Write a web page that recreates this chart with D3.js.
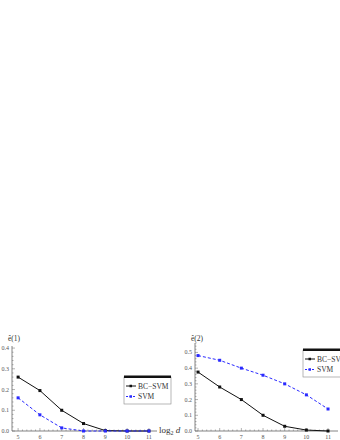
<!DOCTYPE html>
<html lang="en">
<head>
<meta charset="UTF-8">
<title>e(1), e(2) vs log2 d</title>
<script src="https://d3js.org/d3.v7.min.js"></script>
<style>
  body { margin: 0; padding: 0; background: #fff; }
  svg { display: block; }
  text { font-family: "Liberation Serif", "DejaVu Serif", serif; }
  .tick-label { font-size: 6px; fill: #555; }
</style>
</head>
<body>
<svg width="340" height="440"></svg>
<script>
const logD = [5, 6, 7, 8, 9, 10, 11];
const xTickLabels = ["5", "6", "7", "8", "9", "10", "11"];

// panel 1: e(1)
const bcSvm1 = [0.26, 0.195, 0.10, 0.036, 0.002, 0.0, 0.0];
const svm1 = [0.16, 0.078, 0.015, 0.0, 0.0, 0.0, 0.0];
const yTicks1 = [0.0, 0.1, 0.2, 0.3, 0.4];

// panel 2: e(2)
const bcSvm2 = [0.375, 0.28, 0.20, 0.10, 0.03, 0.006, 0.0];
const svm2 = [0.48, 0.45, 0.40, 0.355, 0.30, 0.23, 0.14];
const yTicks2 = [0.0, 0.1, 0.2, 0.3, 0.4, 0.5];

const seriesNames = ["BC\u2212SVM", "SVM"];
const BLUE = "#2a2aff";

const svg = d3.select("svg");

function panel(cfg) {
  const g = svg.append("g");
  const x = d3.scaleLinear().domain(cfg.xDomain).range(cfg.xRange);
  const y = d3.scaleLinear().domain(cfg.yDomain).range(cfg.yRange);
  const axisCol = "#666";

  // axes lines
  g.append("line").attr("x1", x.range()[0]).attr("x2", x.range()[1])
    .attr("y1", y(0)).attr("y2", y(0)).attr("stroke", axisCol).attr("stroke-width", 0.8);
  g.append("line").attr("x1", x.range()[0]).attr("x2", x.range()[0])
    .attr("y1", y.range()[0]).attr("y2", y.range()[1]).attr("stroke", axisCol).attr("stroke-width", 0.8);

  // minor ticks (major ones a bit longer)
  const xMinor = d3.range(5, 11.01, 0.2).filter(v => v <= cfg.xDomain[1]);
  g.selectAll(".xm").data(xMinor).enter().append("line")
    .attr("x1", d => x(d)).attr("x2", d => x(d))
    .attr("y1", y(0)).attr("y2", d => Math.abs(d - Math.round(d)) < 1e-6 ? y(0) - 3 : y(0) - 1.5)
    .attr("stroke", axisCol).attr("stroke-width", 0.5);
  const yMinor = d3.range(0, cfg.yDomain[1] + 1e-9, 0.02);
  g.selectAll(".ym").data(yMinor).enter().append("line")
    .attr("x1", x.range()[0]).attr("x2", d => Math.abs(d * 10 - Math.round(d * 10)) < 1e-6 ? x.range()[0] + 3 : x.range()[0] + 1.5)
    .attr("y1", d => y(d)).attr("y2", d => y(d))
    .attr("stroke", axisCol).attr("stroke-width", 0.5);

  // tick labels
  g.selectAll(".xl").data(logD).enter().append("text")
    .attr("class", "tick-label")
    .attr("x", d => x(d)).attr("y", y(0) + 8)
    .attr("text-anchor", "middle")
    .text((d, i) => xTickLabels[i]);
  g.selectAll(".yl").data(cfg.yTicks).enter().append("text")
    .attr("class", "tick-label")
    .attr("x", x.range()[0] - 3).attr("y", d => y(d) + 2)
    .attr("text-anchor", "end")
    .text(d => d.toFixed(1));

  // title
  g.append("text").attr("x", x.range()[0] - 4).attr("y", 341)
    .attr("font-size", 7.5).attr("fill", "#333").text(cfg.title);

  // series
  const line = d3.line().x((d, i) => x(logD[i])).y(d => y(d));
  const series = [
    { vals: cfg.bc, color: "#111", dash: null },
    { vals: cfg.svm, color: BLUE, dash: "3,2" }
  ];
  series.forEach(s => {
    g.append("path").datum(s.vals).attr("d", line)
      .attr("fill", "none").attr("stroke", s.color).attr("stroke-width", 1)
      .attr("stroke-dasharray", s.dash);
    g.selectAll(null).data(s.vals).enter().append("rect")
      .attr("x", (d, i) => x(logD[i]) - 1.5).attr("y", d => y(d) - 1.5)
      .attr("width", 3).attr("height", 3).attr("fill", s.color);
  });

  // legend
  const L = cfg.legend;
  g.append("rect").attr("x", L.x).attr("y", L.y).attr("width", L.w).attr("height", L.h)
    .attr("fill", "#fff").attr("stroke", "#888").attr("stroke-width", 0.6);
  g.append("rect").attr("x", L.x).attr("y", L.y - 1.5).attr("width", L.w).attr("height", 2.5)
    .attr("fill", "#111");
  series.forEach((s, i) => {
    const ly = L.y + 9 + i * 10.5;
    g.append("line").attr("x1", L.x + 2).attr("x2", L.x + 12).attr("y1", ly).attr("y2", ly)
      .attr("stroke", s.color).attr("stroke-width", 1).attr("stroke-dasharray", s.dash ? "2,1.5" : null);
    g.append("rect").attr("x", L.x + 5.5).attr("y", ly - 1.25).attr("width", 2.5).attr("height", 2.5)
      .attr("fill", s.color);
    g.append("text").attr("x", L.x + 14).attr("y", ly + 2.5)
      .attr("font-size", 7.5).attr("fill", "#333").text(seriesNames[i]);
  });

  if (cfg.xLabel) {
    const t = g.append("text").attr("x", x.range()[1] + 2).attr("y", y(0) + 2)
      .attr("font-size", 9).attr("fill", "#333");
    t.append("tspan").text("log");
    t.append("tspan").attr("font-size", 6).attr("dy", 2).text("2");
    t.append("tspan").attr("dy", -2).attr("font-style", "italic").text(" d");
  }
}

panel({
  title: "\u00ea(1)",
  xDomain: [4.72, 11.37], xRange: [12, 157],
  yDomain: [0, 0.41], yRange: [431, 346],
  yTicks: yTicks1,
  bc: bcSvm1, svm: svm1,
  legend: { x: 124, y: 377, w: 47, h: 27 },
  xLabel: true
});

panel({
  title: "\u00ea(2)",
  xDomain: [4.86, 11.46], xRange: [195, 338],
  yDomain: [0, 0.56], yRange: [431, 343],
  yTicks: yTicks2,
  bc: bcSvm2, svm: svm2,
  legend: { x: 303, y: 350, w: 47, h: 27 },
  xLabel: false
});
</script>
</body>
</html>
